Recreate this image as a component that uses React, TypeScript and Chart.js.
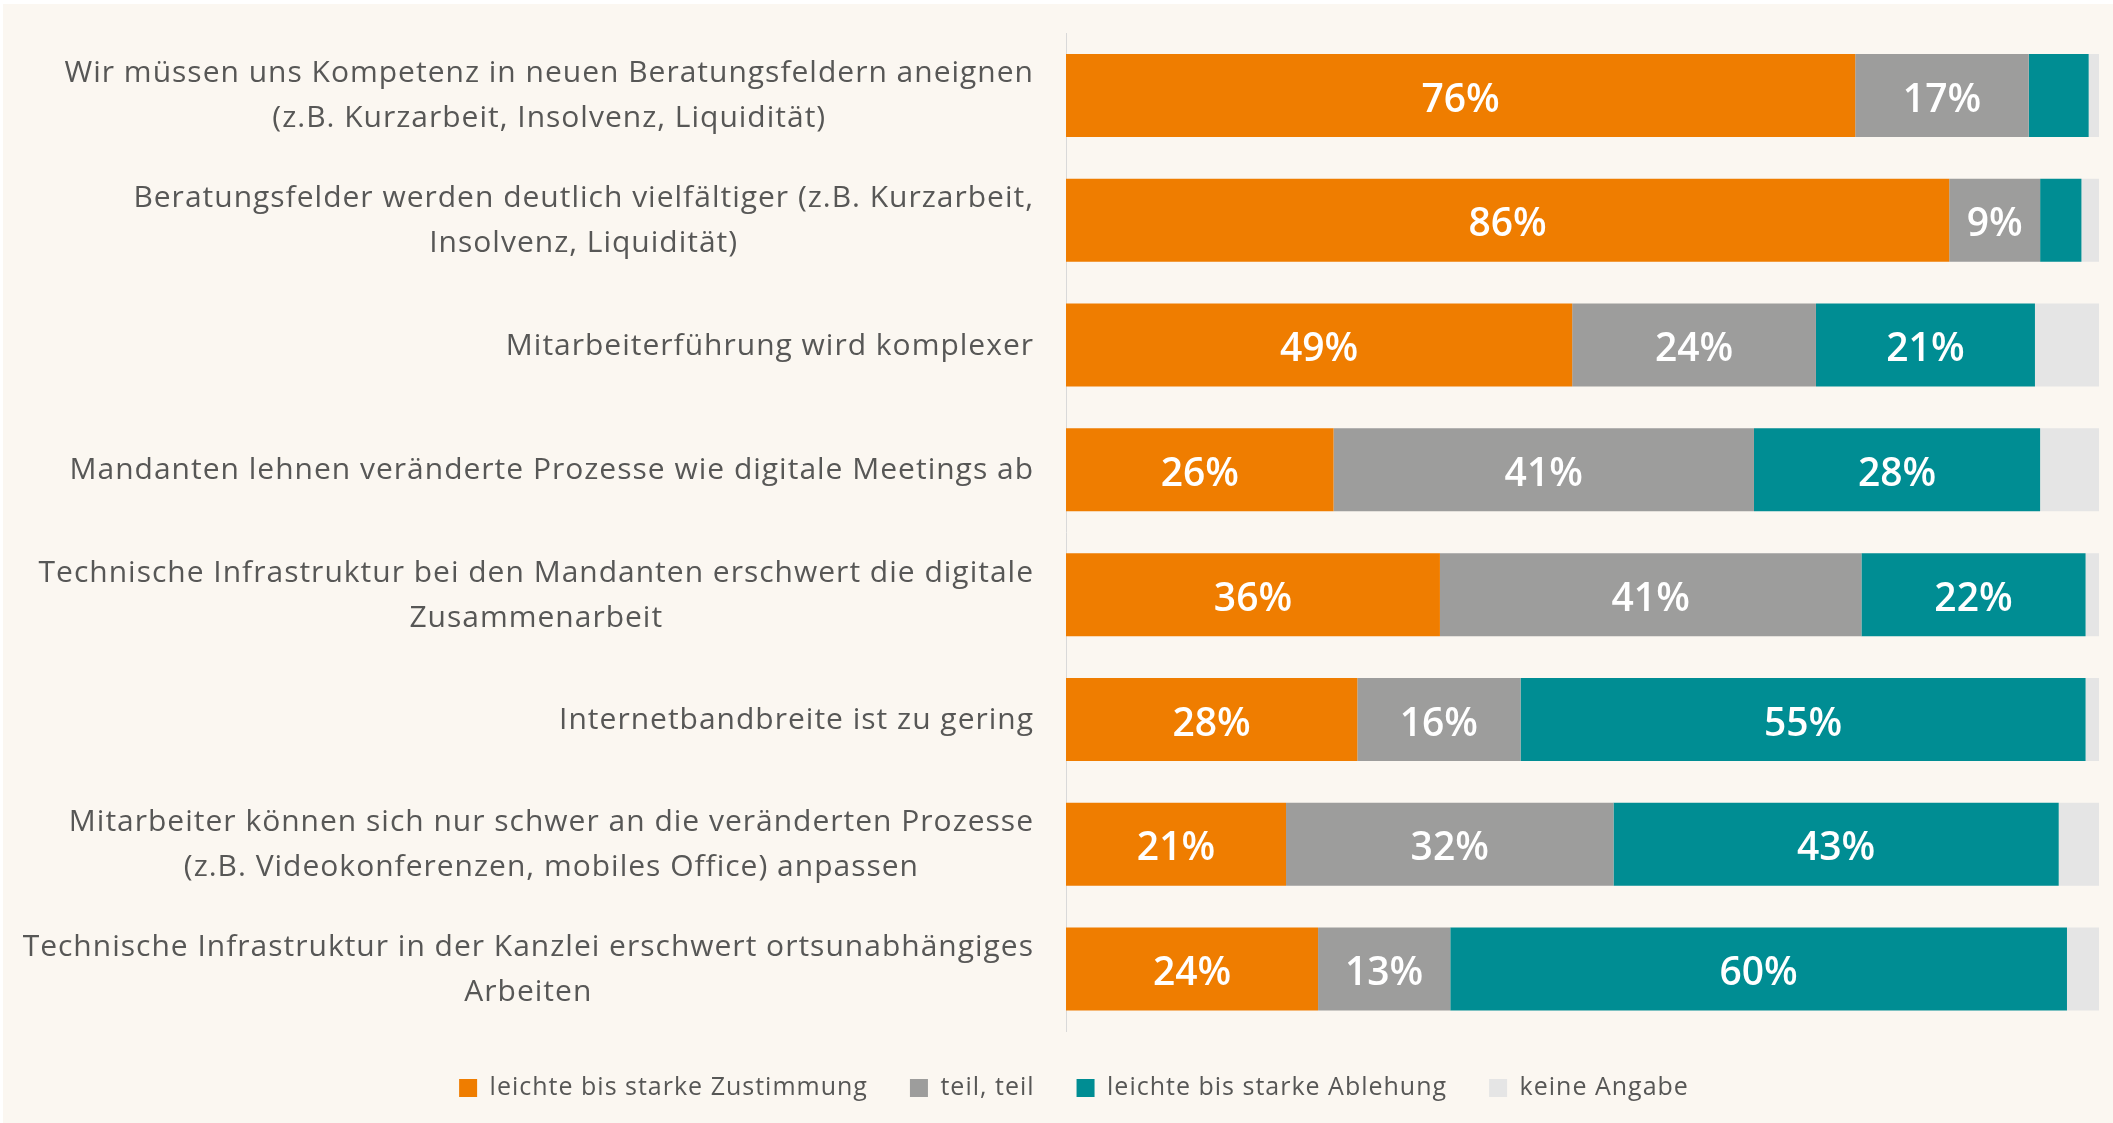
import React, { useEffect, useRef } from "react";
import { Chart, registerables } from "chart.js";

Chart.register(...registerables);

// ---- Data ----
const categories: string[][] = [
  ["Wir müssen uns Kompetenz in neuen Beratungsfeldern aneignen", "(z.B. Kurzarbeit, Insolvenz, Liquidität)"],
  ["Beratungsfelder werden deutlich vielfältiger (z.B. Kurzarbeit,", "Insolvenz, Liquidität)"],
  ["Mitarbeiterführung wird komplexer"],
  ["Mandanten lehnen veränderte Prozesse wie digitale Meetings ab"],
  ["Technische Infrastruktur bei den Mandanten erschwert die digitale", "Zusammenarbeit"],
  ["Internetbandbreite ist zu gering"],
  ["Mitarbeiter können sich nur schwer an die veränderten Prozesse", "(z.B. Videokonferenzen, mobiles Office) anpassen"],
  ["Technische Infrastruktur in der Kanzlei erschwert ortsunabhängiges", "Arbeiten"],
];

const seriesNames = [
  "leichte bis starke Zustimmung",
  "teil, teil",
  "leichte bis starke Ablehung",
  "keine Angabe",
];

const zustimmung = [76.4, 85.5, 49.0, 25.9, 36.2, 28.2, 21.3, 24.4];
const teilTeil = [16.8, 8.8, 23.6, 40.7, 40.8, 15.8, 31.7, 12.8];
const ablehnung = [5.8, 4.0, 21.2, 27.7, 21.7, 54.7, 43.1, 59.7];
const keineAngabe = [1.0, 1.7, 6.2, 5.7, 1.3, 1.3, 3.9, 3.1];

const seriesColors = ["#EF7D00", "#9D9D9C", "#008D93", "#E5E5E5"];

const FONT = '"Open Sans", "DejaVu Sans", sans-serif';
const TEXT_COLOR = "#575756";

const spacingPlugin = {
  id: "letterSpacingCustom",
  beforeLayout(chart: any) {
    chart.ctx.letterSpacing = "1px";
  },
  afterLayout(chart: any) {
    if (chart.legend) {
      chart.legend.top += 2;
      chart.legend.bottom += 2;
    }
  },
  beforeDraw(chart: any) {
    chart.ctx.letterSpacing = "1px";
  },
};

const yLabelPlugin = {
  id: "yLabelsCustom",
  afterDraw(chart: any) {
    const { ctx, chartArea } = chart;
    const yScale = chart.scales.y;
    ctx.save();
    ctx.font = `30px ${FONT}`;
    ctx.letterSpacing = "1px";
    ctx.fillStyle = TEXT_COLOR;
    ctx.textAlign = "center";
    ctx.textBaseline = "middle";
    const right = chartArea.left - 32;
    const lineH = 45;
    categories.forEach((lines, i) => {
      const yc = yScale.getPixelForValue(i) + 1;
      const maxW = Math.max(...lines.map((l) => ctx.measureText(l).width));
      const cx = right - maxW / 2;
      lines.forEach((l, j) => {
        ctx.fillText(l, cx, yc + (j - (lines.length - 1) / 2) * lineH);
      });
    });
    ctx.restore();
  },
};

const valueLabelPlugin = {
  id: "valueLabelsCustom",
  afterDatasetsDraw(chart: any) {
    const { ctx } = chart;
    ctx.save();
    ctx.font = `600 39px ${FONT}`;
    ctx.letterSpacing = "0px";
    ctx.fillStyle = "#FFFFFF";
    ctx.textAlign = "center";
    ctx.textBaseline = "middle";
    chart.data.datasets.forEach((ds: any, di: number) => {
      if (di === 3) return;
      const meta = chart.getDatasetMeta(di);
      meta.data.forEach((el: any, i: number) => {
        const v = ds.data[i] as number;
        if (v < 7) return;
        const { x, base, y } = el.getProps(["x", "base", "y"], true);
        ctx.fillText(Math.round(v) + "%", (x + base) / 2, y + 5);
      });
    });
    ctx.restore();
  },
};

export default function App() {
  const canvasRef = useRef<HTMLCanvasElement | null>(null);

  useEffect(() => {
    document.body.style.margin = "0";
    document.body.style.background = "#FFFFFF";
    let chart: Chart | null = null;
    let cancelled = false;
    const make = () => {
      if (cancelled || !canvasRef.current) return;
      const allSeries = [zustimmung, teilTeil, ablehnung, keineAngabe];
      chart = new Chart(canvasRef.current, {
        type: "bar",
        data: {
          labels: categories,
          datasets: allSeries.map((d, i) => ({
            label: seriesNames[i],
            data: d,
            backgroundColor: seriesColors[i],
            borderWidth: 0,
            barPercentage: 0.665,
            categoryPercentage: 1,
          })),
        },
        options: {
          animation: false,
          responsive: false,
          indexAxis: "y",
          layout: { padding: { top: 29, right: 14, left: 46, bottom: 14.5 } },
          plugins: {
            legend: {
              position: "bottom",
              labels: {
                font: { family: FONT, size: 25 },
                color: TEXT_COLOR,
                boxWidth: 18,
                boxHeight: 18,
                padding: 42,
              },
            },
            tooltip: { enabled: false },
          },
          scales: {
            x: { stacked: true, display: false, min: 0, max: 100 },
            y: {
              stacked: true,
              grid: { display: false },
              border: { display: true, color: "#D9D9D9", width: 1 },
              ticks: { display: false },
              afterFit: (s: any) => {
                s.width = 1017;
              },
            },
          },
        } as any,
        plugins: [spacingPlugin, yLabelPlugin, valueLabelPlugin],
      });
    };
    const fontsReady = (document as any).fonts
      ? Promise.all([
          (document as any).fonts.load(`30px "Open Sans"`),
          (document as any).fonts.load(`600 39px "Open Sans"`),
        ]).catch(() => null)
      : Promise.resolve(null);
    fontsReady.then(make);
    return () => {
      cancelled = true;
      if (chart) chart.destroy();
    };
  }, []);

  return (
    <div style={{ position: "relative", width: 2113, height: 1123, background: "#FFFFFF", overflow: "hidden" }}>
      <div style={{ position: "absolute", left: 3, top: 4, width: 2110, height: 1119, background: "#FBF7F1" }}>
        <canvas ref={canvasRef} width={2110} height={1119} style={{ display: "block", width: 2110, height: 1119 }} />
      </div>
    </div>
  );
}
